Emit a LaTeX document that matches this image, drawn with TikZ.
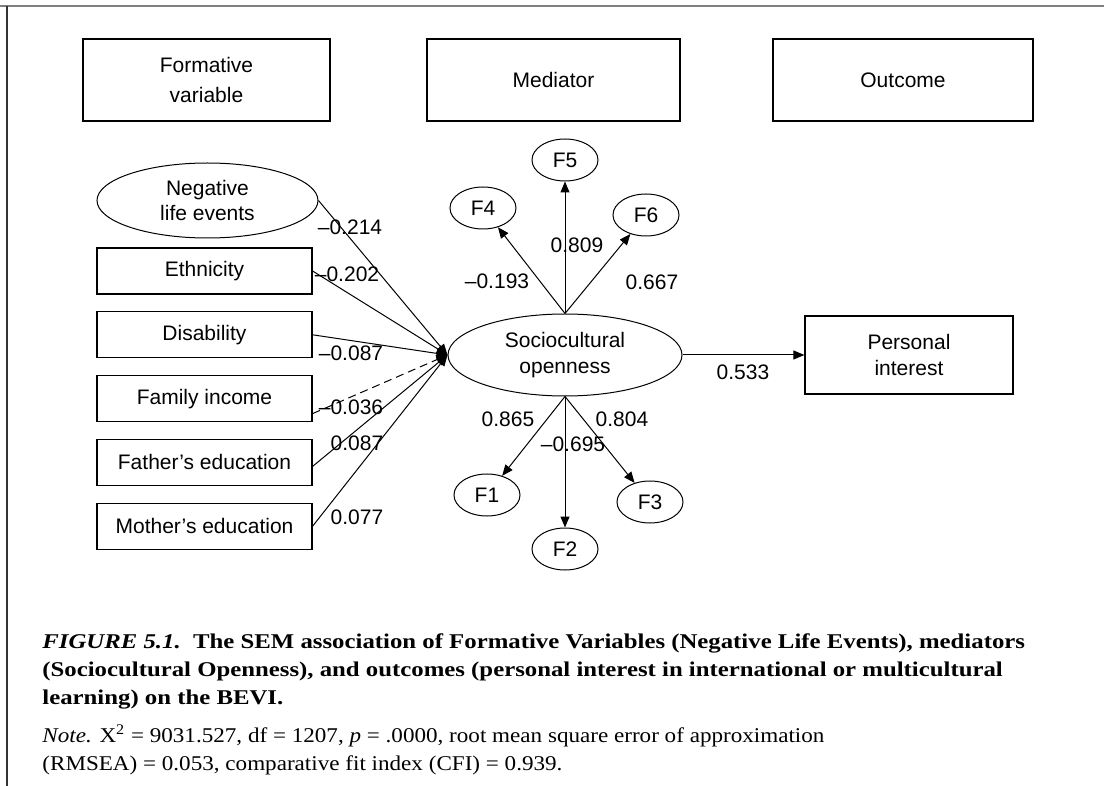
\documentclass[tikz,border=0pt]{standalone}
\usepackage{fontspec}
\setmainfont{Liberation Serif}
\setsansfont{Liberation Sans}
\newfontfamily\capfont[FakeStretch=1.18]{Liberation Serif}
\newfontfamily\notefont[FakeStretch=1.1]{Liberation Serif}
\usetikzlibrary{positioning,arrows.meta,shapes.geometric}

\begin{document}
\begin{tikzpicture}[
    x=0.5pt,y=-0.5pt,
    node distance=8.3pt,
    txt/.style={font=\sffamily\fontsize{10.5}{12.6}\selectfont},
    block/.style={rectangle,draw,line width=0.6pt,align=center,inner sep=0pt,txt},
    head/.style={block,minimum height=41pt},
    var/.style={block,minimum width=107.5pt,minimum height=23pt},
    latent/.style={ellipse,draw,line width=0.5pt,align=center,inner sep=0pt,txt},
    fac/.style={latent,minimum width=33pt,minimum height=21pt},
    coef/.style={txt,inner sep=0pt},
    arrow/.style={-{Triangle[length=5.5pt,width=4.5pt]},line width=0.5pt},
    captxt/.style={align=left,inner sep=0pt}
]
\useasboundingbox (0,0) rectangle (1104,786);
\draw[gray,line width=1.1pt] (0,6) -- (1104,6);
\draw[black!80,line width=0.8pt] (7,6) -- (7,786);

% headings
\node[head,minimum width=123.5pt] (form) at (206.5,80) {Formative\\[2pt]variable};
\node[head,minimum width=126.5pt] (med)  at (553.5,80) {Mediator};
\node[head,minimum width=130pt]   (outc) at (903,80)   {Outcome};

% formative variables
\node[latent,minimum width=110.5pt,minimum height=37.5pt] (neg) at (207.5,200.5) {Negative\\life events};
\node[var] (eth) at (204.5,271) {Ethnicity};
\node[var,below=of eth] (dis) {Disability};
\node[var,below=of dis] (inc) {Family income};
\node[var,below=of inc] (fed) {Father's education};
\node[var,below=of fed] (med2) {Mother's education};

% mediator and outcome
\node[latent,minimum width=117pt,minimum height=41pt] (soc) at (565,355) {Sociocultural\\openness};
\node[block,minimum width=104pt,minimum height=39pt] (pint) at (909,355) {Personal\\interest};

% factors
\node[fac] (f5) at (565,160) {F5};
\node[fac] (f4) at (483,208) {F4};
\node[fac] (f6) at (646,215) {F6};
\node[fac] (f1) at (487,495) {F1};
\node[fac] (f2) at (565,549) {F2};
\node[fac] (f3) at (650,502) {F3};

% paths into the mediator
\draw[arrow] (neg.east) -- (soc.west);
\draw[arrow] (eth.east) -- (soc.west);
\draw[arrow] (dis.east) -- (soc.west);
\draw[arrow,dash pattern=on 4pt off 2.5pt] ([yshift=-7.5pt]inc.east) -- (soc.west);
\draw[arrow] ([yshift=-2pt]fed.east) -- (soc.west);
\draw[arrow] (med2.east) -- (soc.west);

\node[coef] (cneg) at (350,227) {–0.214};
\node[coef] (ceth) at (347,274) {–0.202};
\node[coef] (cdis) at (351,353) {–0.087};
\node[coef] (cinc) at (351,407) {–0.036};
\node[coef] (cfed) at (357,443) {0.087};
\node[coef] (cmed) at (357,517) {0.077};

% loadings
\draw[arrow] (soc.north) -- (f4);
\draw[arrow] (soc.north) -- (f5);
\draw[arrow] (soc.north) -- (f6);
\draw[arrow] (soc.south) -- (f1);
\draw[arrow] (soc.south) -- (f2);
\draw[arrow] (soc.south) -- (f3);

\node[coef] (cf4) at (497,281) {–0.193};
\node[coef] (cf5) at (577,245) {0.809};
\node[coef] (cf6) at (652,282) {0.667};
\node[coef] (cf1) at (508,419) {0.865};
\node[coef] (cf2) at (573,444) {–0.695};
\node[coef] (cf3) at (622,419) {0.804};

% outcome path
\draw[arrow] (soc.east) -- (pint.west);
\node[coef] (cpi) at (743,372) {0.533};

% caption (anchor is the last baseline)
\node[captxt,anchor=base west,font=\capfont\fontsize{10.5}{14}\selectfont] (cap) at (42,704)
  {\textbf{\textit{FIGURE 5.1.}}\ \ \textbf{The SEM association of Formative Variables (Negative Life Events), mediators}\\
   \textbf{(Sociocultural Openness), and outcomes (personal interest in international or multicultural}\\
   \textbf{learning) on the BEVI.}};
\node[captxt,anchor=base west,font=\notefont\fontsize{10.5}{14}\selectfont] (note) at (42,770)
  {\textit{Note.} X\textsuperscript{2} = 9031.527, df = 1207, \textit{p} = .0000, root mean square error of approximation\\
   (RMSEA) = 0.053, comparative fit index (CFI) = 0.939.};
\end{tikzpicture}
\end{document}
